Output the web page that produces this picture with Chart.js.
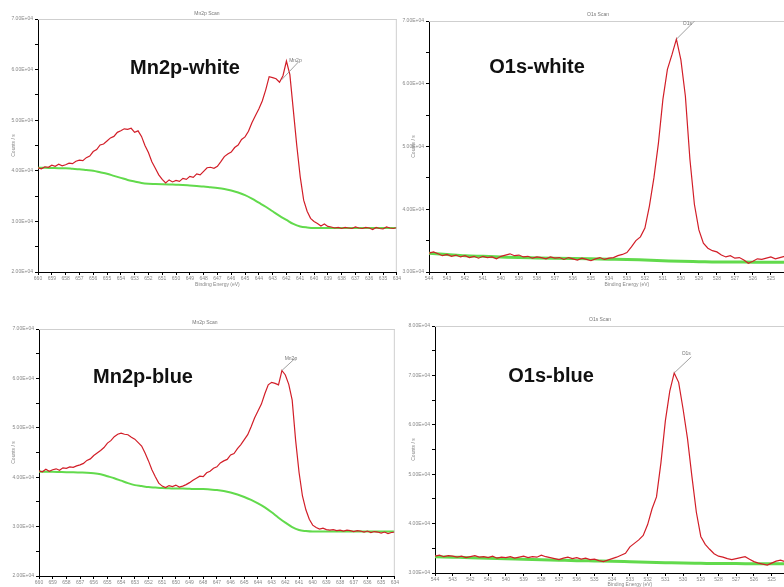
<!DOCTYPE html>
<html>
<head>
<meta charset="utf-8">
<title>XPS Mn2p / O1s</title>
<script src="https://cdn.jsdelivr.net/npm/chart.js@4.4.1/dist/chart.umd.min.js"></script>
<style>
  html, body { margin: 0; padding: 0; background: #fff; overflow: hidden; }
  body { width: 784px; height: 587px; position: relative; }
  canvas { position: absolute; }
</style>
</head>
<body>
<canvas id="mnWhite" width="402" height="300" style="left:0;top:0"></canvas>
<canvas id="o1sWhite" width="430" height="300" style="left:400px;top:0"></canvas>
<canvas id="mnBlue" width="400" height="300" style="left:0;top:300px"></canvas>
<canvas id="o1sBlue" width="430" height="300" style="left:400px;top:300px"></canvas>
<script>
// Sample names and scan titles
const sampleLabels = ['Mn2p-white', 'O1s-white', 'Mn2p-blue', 'O1s-blue'];
const scanTitles = ['Mn2p Scan', 'O1s Scan', 'Mn2p Scan', 'O1s Scan'];
const peakNames = ['Mn2p', 'O1s', 'Mn2p', 'O1s'];

// Mn2p scans: 660 -> 634 eV, 0.25 eV steps (counts/s)
const mnWhiteCounts = [
  40600, 40400, 40800, 40700, 41100, 40900, 41300, 41000, 41200, 41500,
  41400, 41900, 42100, 42000, 42600, 42900, 43800, 44200, 45100, 45300,
  45900, 46500, 46800, 47600, 47900, 48300, 48200, 48400, 47600, 47900,
  46800, 45000, 43600, 41800, 40500, 39200, 38300, 37600, 38200, 37800,
  38100, 37900, 38500, 38300, 38900, 38700, 39400, 39200, 39900, 40600,
  40700, 40500, 40900, 41800, 42800, 43300, 43700, 44600, 45100, 46200,
  46700, 47800, 49500, 50900, 52200, 53800, 56000, 58600, 58400, 58200,
  57500, 58800, 61700, 59000, 52000, 45000, 38800, 34200, 32000, 30600,
  30000, 29600, 29100, 29500, 29000, 28900, 28700, 28800, 28600, 28800,
  28700, 28600, 28900, 28700, 28600, 28800, 28700, 28400, 28800, 28600,
  28500, 28900, 28700, 28600, 28800
];
const mnBlueCounts = [
  41300, 41100, 41600, 41200, 41500, 41700, 41400, 41900, 41800, 42100,
  42000, 42300, 42500, 42800, 43400, 43700, 44400, 44900, 45400, 46000,
  46900, 47400, 48200, 48700, 48900, 48700, 48600, 48100, 47700, 47000,
  46300, 44900, 43300, 41500, 40100, 38800, 38200, 37900, 38300, 38100,
  38400, 38000, 38200, 38500, 38900, 39400, 39800, 40200, 40100, 40900,
  41200, 41800, 42100, 42900, 43300, 43600, 44500, 44800, 45800, 46600,
  47600, 48600, 50200, 52000, 53400, 54800, 56900, 58700, 59200, 59000,
  58700, 61600, 60700, 58800, 55600, 47500, 41000, 36200, 33400, 31500,
  30300, 29800, 29500, 29700, 29400, 29300, 29400, 29200, 29300, 29100,
  29300, 29200, 29000, 29200, 29100, 28900, 29100, 28800, 29000, 28900,
  28700, 28900, 28600, 28800, 28900
];
// Shirley backgrounds: 660 -> 634 eV, 0.5 eV steps
const mnWhiteBackground = [
  40600, 40600, 40550, 40500, 40500, 40400, 40300, 40150, 40000, 39700,
  39400, 39000, 38600, 38200, 37900, 37600, 37450, 37400, 37350, 37300,
  37250, 37200, 37100, 37000, 36900, 36750, 36600, 36400, 36100, 35700,
  35200, 34500, 33700, 32900, 32000, 31100, 30300, 29500, 29000, 28800,
  28700, 28700, 28700, 28700, 28700, 28700, 28700, 28700, 28700, 28700,
  28700, 28700, 28700
];
const mnBlueBackground = [
  41100, 41100, 41100, 41050, 41000, 41000, 40950, 40900, 40800, 40600,
  40200, 39800, 39300, 38800, 38400, 38200, 38000, 37900, 37800, 37750,
  37700, 37700, 37650, 37600, 37600, 37500, 37400, 37200, 36900, 36500,
  36000, 35400, 34700, 33900, 32900, 31800, 30800, 29900, 29300, 29100,
  29000, 29000, 29000, 29000, 29000, 29000, 29000, 29000, 29000, 29000,
  29000, 29000, 29000
];

// O1s scans: 544 -> 522 eV, 0.25 eV steps
const o1sWhiteCounts = [
  33000, 33200, 32900, 32600, 32800, 32500, 32700, 32400, 32600, 32300,
  32500, 32200, 32500, 32300, 32400, 32100, 32500, 32700, 32900, 32600,
  32700, 32400, 32500, 32200, 32400, 32300, 32100, 32400, 32200, 32300,
  32000, 32300, 32100, 31900, 32200, 32000, 31800, 32100, 32300, 32000,
  32200, 32300, 32600, 32800, 33100, 34000, 35000, 35600, 37000, 40500,
  45000, 50500, 57500, 62300, 64600, 67100, 63800, 58000, 48000, 40800,
  36700, 34600, 33800, 33400, 33200, 32700, 32400, 32600, 32200, 32300,
  31900, 31400, 31700, 32100, 32000, 32200, 32400, 32100, 32300, 32500,
  32300, 32200, 32400, 32100, 32300, 32200, 32400, 32100, 32300
];
const o1sBlueCounts = [
  33400, 33600, 33300, 33500, 33400, 33200, 33400, 33100, 33300, 33500,
  33200, 33300, 33100, 33400, 33000, 33200, 33100, 33300, 33000, 33200,
  33400, 33100, 33300, 33200, 33600, 33300, 33100, 32900, 32700, 33000,
  33200, 32900, 33100, 32800, 33000, 32700, 32800, 32500, 32300, 32600,
  32900, 33200, 33600, 34000, 35300, 36000, 36700, 37600, 39800, 43000,
  45400, 52300, 60800, 66800, 70500, 68600, 63200, 57200, 49500, 42300,
  37400, 35800, 34800, 33900, 33400, 33200, 32900, 32700, 32900, 33100,
  33300, 32800, 32300, 32000, 31800, 31600, 32000, 32400, 32600, 32300,
  32500, 32400, 32600, 32300, 32500, 32400, 32600, 32300, 32500
];
// backgrounds: 544 -> 522 eV, 1 eV steps
const o1sWhiteBackground = [
  33000, 32800, 32600, 32500, 32400, 32300, 32250, 32200, 32150, 32100,
  32050, 32000, 31900, 31800, 31700, 31650, 31600, 31600, 31550, 31550,
  31600, 31700, 31800
];
const o1sBlueBackground = [
  33300, 33200, 33100, 33000, 32900, 32800, 32700, 32600, 32500, 32450,
  32400, 32300, 32200, 32100, 32000, 31950, 31900, 31900, 31850, 31850,
  31900, 31950, 32000
];

// energy axis of a scan, high to low
function scanGrid(from, to, step) {
  const e = [];
  for (let v = from; v >= to - 1e-9; v -= step) e.push(+v.toFixed(2));
  return e;
}
const toPoints = (energy, counts) => energy.map((e, i) => ({ x: e, y: counts[i] }));

// 7.00E+04 style labels, only on the major ticks
function sciLabel(v) {
  if (v % 10000 !== 0) return '';
  const exp = Math.floor(Math.log10(v));
  return (v / Math.pow(10, exp)).toFixed(2) + 'E+' + String(exp).padStart(2, '0');
}

const FONT = '"Liberation Sans", Arial, sans-serif';

// frame, scan title, peak tag and the big sample name
function decor(cfg) {
  return {
    id: 'decor',
    afterDraw(chart) {
      const { ctx, chartArea: a, scales: { x, y } } = chart;
      ctx.save();
      ctx.strokeStyle = '#cfcfcf';
      ctx.lineWidth = 1;
      ctx.beginPath();
      ctx.moveTo(a.left, a.top + 0.5); ctx.lineTo(a.right, a.top + 0.5);
      ctx.moveTo(a.right - 0.5, a.top); ctx.lineTo(a.right - 0.5, a.bottom);
      ctx.stroke();

      ctx.fillStyle = '#777';
      ctx.font = '5px ' + FONT;
      ctx.textAlign = 'center';
      ctx.textBaseline = 'middle';
      ctx.fillText(cfg.title, cfg.titleX, cfg.titleY);

      // tag the highest point of the measured curve
      let top = chart.data.datasets[0].data[0];
      chart.data.datasets[0].data.forEach(p => { if (p.y > top.y) top = p; });
      const px = x.getPixelForValue(top.x), py = y.getPixelForValue(top.y);
      const l = cfg.lead;
      ctx.strokeStyle = '#888';
      ctx.lineWidth = 0.8;
      ctx.beginPath();
      ctx.moveTo(px + l[0], py + l[1]);
      ctx.lineTo(px + l[2], py + l[3]);
      ctx.stroke();
      ctx.fillText(cfg.peak, px + l[4], py + l[5]);

      ctx.fillStyle = '#111';
      ctx.font = 'bold 20px ' + FONT;
      ctx.fillText(cfg.label, cfg.labelX, cfg.labelY);
      ctx.restore();
    }
  };
}

function spectrum(id, cfg) {
  const tickFont = { size: 5, family: FONT };
  new Chart(document.getElementById(id), {
    type: 'line',
    data: {
      datasets: [
        {
          data: toPoints(cfg.energy, cfg.counts),
          borderColor: '#d21e28',
          borderWidth: 1.2,
          pointRadius: 0,
          tension: 0
        },
        {
          data: toPoints(cfg.bgEnergy, cfg.background),
          borderColor: '#62da4c',
          borderWidth: cfg.bgWidth,
          pointRadius: 0,
          cubicInterpolationMode: 'monotone'
        }
      ]
    },
    options: {
      responsive: false,
      animation: false,
      layout: { padding: cfg.padding },
      plugins: { legend: { display: false }, tooltip: { enabled: false } },
      scales: {
        x: {
          type: 'linear',
          reverse: true,
          min: cfg.xMin,
          max: cfg.xMax,
          ticks: { stepSize: 1, autoSkip: false, maxRotation: 0, font: tickFont, color: '#888', padding: 1 },
          grid: { drawOnChartArea: false, tickLength: 3, color: '#000' },
          border: { color: '#000' },
          title: { display: true, text: 'Binding Energy (eV)', font: tickFont, color: '#888', padding: { top: 0, bottom: cfg.xTitlePad } },
          afterFit: s => { s.height = cfg.xHeight; }
        },
        y: {
          min: cfg.yMin,
          max: cfg.yMax,
          ticks: { stepSize: 5000, autoSkip: false, callback: sciLabel, font: tickFont, color: '#888', padding: 2 },
          grid: { drawOnChartArea: false, tickLength: 3, color: '#000' },
          border: { color: '#000' },
          title: { display: true, text: 'Counts / s', font: tickFont, color: '#888', padding: { top: 11, bottom: 0 } },
          afterFit: s => { s.width = cfg.yWidth; }
        }
      }
    },
    plugins: [decor(cfg)]
  });
}

const mnEnergy = scanGrid(660, 634, 0.25);
const mnBgEnergy = scanGrid(660, 634, 0.5);
const o1sEnergy = scanGrid(544, 522, 0.25);
const o1sBgEnergy = scanGrid(544, 522, 1);

spectrum('mnWhite', {
  energy: mnEnergy, counts: mnWhiteCounts, bgEnergy: mnBgEnergy, background: mnWhiteBackground, bgWidth: 2,
  xMin: 634, xMax: 660, yMin: 20000, yMax: 70000,
  padding: { top: 19, right: 2, left: 0, bottom: 0 }, yWidth: 38, xHeight: 28, xTitlePad: 12,
  title: scanTitles[0], titleX: 207, titleY: 14,
  label: sampleLabels[0], labelX: 185, labelY: 68,
  peak: peakNames[0], lead: [-5, 19, 12, 1, 9, 0]
});
spectrum('o1sWhite', {
  energy: o1sEnergy, counts: o1sWhiteCounts, bgEnergy: o1sBgEnergy, background: o1sWhiteBackground, bgWidth: 3,
  xMin: 522, xMax: 544, yMin: 30000, yMax: 70000,
  padding: { top: 21, right: 5, left: 0, bottom: 0 }, yWidth: 29, xHeight: 28, xTitlePad: 12,
  title: scanTitles[1], titleX: 198, titleY: 15,
  label: sampleLabels[1], labelX: 137, labelY: 67,
  peak: peakNames[1], lead: [0, 0, 18, -18, 11, -16]
});
spectrum('mnBlue', {
  energy: mnEnergy, counts: mnBlueCounts, bgEnergy: mnBgEnergy, background: mnBlueBackground, bgWidth: 2,
  xMin: 634, xMax: 660, yMin: 20000, yMax: 70000,
  padding: { top: 29, right: 4, left: 0, bottom: 0 }, yWidth: 39, xHeight: 24, xTitlePad: 2,
  title: scanTitles[2], titleX: 205, titleY: 23,
  label: sampleLabels[2], labelX: 143, labelY: 77,
  peak: peakNames[2], lead: [0, 0, 13, -12, 9, -12]
});
spectrum('o1sBlue', {
  energy: o1sEnergy, counts: o1sBlueCounts, bgEnergy: o1sBgEnergy, background: o1sBlueBackground, bgWidth: 3,
  xMin: 522, xMax: 544, yMin: 30000, yMax: 80000,
  padding: { top: 26, right: 3, left: 0, bottom: 0 }, yWidth: 35, xHeight: 27, xTitlePad: 12,
  title: scanTitles[3], titleX: 200, titleY: 20,
  label: sampleLabels[3], labelX: 151, labelY: 76,
  peak: peakNames[3], lead: [0, 0, 17, -16, 12, -19]
});
</script>
</body>
</html>
